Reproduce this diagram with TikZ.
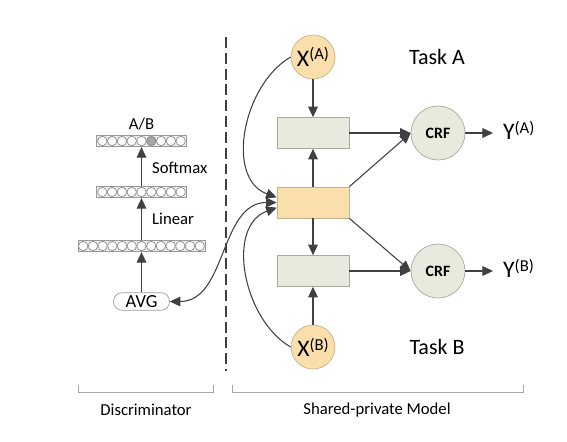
\documentclass[tikz,border=0pt]{standalone}
\usepackage{fontspec}
\setmainfont{Carlito}
\usetikzlibrary{arrows.meta,positioning}

\definecolor{naranja}{HTML}{FADFAC}
\definecolor{bordenaranja}{HTML}{C9B28C}
\definecolor{verdoso}{HTML}{E7EADC}
\definecolor{bordegris}{HTML}{A8AAA0}
\definecolor{linea}{HTML}{404040}

\newcommand{\indice}[1]{\raisebox{0.55ex}{\fontsize{9.5}{11}\selectfont(#1)}}

\begin{document}
\begin{tikzpicture}[x=0.02cm, y=-0.02cm, >={Triangle[length=6pt,width=5.5pt]}]
    \useasboundingbox (0,0) rectangle (567,441);

    % Estilos de nodos y flechas
    \tikzset{
      entrada/.style={
        circle, fill=naranja, draw=bordenaranja,
        minimum size=0.88cm, inner sep=0pt, font=\fontsize{13.5}{15}\selectfont
      },
      caja/.style={
        rectangle, fill=verdoso, draw=bordegris,
        minimum width=1.44cm, minimum height=0.62cm, inner sep=0pt
      },
      crf/.style={
        circle, fill=verdoso, draw=bordegris,
        minimum size=1.08cm, inner sep=0pt, font=\bfseries\fontsize{9}{11}\selectfont
      },
      capa/.style={
        rectangle, fill=gray!12, draw=gray!80,
        minimum height=0.23cm, inner sep=0pt
      },
      celda/.style={draw=gray!90, fill=white, line width=0.4pt},
      flecha/.style={draw=linea, line width=0.6pt, ->},
      etiqueta/.style={font=\fontsize{9.5}{11}\selectfont},
      titulo/.style={font=\fontsize{12.5}{14}\selectfont}
    }

    % Modelo compartido-privado
    \node[entrada] (xa) at (313,57) {X\indice{A}};
    \node[caja] (pa) at (313,133) {};
    \node[caja, fill=naranja, draw=bordenaranja] (comp) at (313,202.5) {};
    \node[caja] (pb) at (313,271) {};
    \node[entrada] (xb) at (313,347) {X\indice{B}};
    \node[crf] (crfa) at (438,133) {CRF};
    \node[crf] (crfb) at (438,271) {CRF};
    \node[entrada, draw=none, fill=none, anchor=west, minimum size=0pt, inner sep=3pt] (ya) at (493,130) {Y\indice{A}};
    \node[entrada, draw=none, fill=none, anchor=west, minimum size=0pt, inner sep=3pt] (yb) at (493,268) {Y\indice{B}};
    \node[titulo] (ta) at (437,57) {Task A};
    \node[titulo] (tb) at (437,347) {Task B};

    \draw[flecha] (xa) -- (pa);
    \draw[flecha] (comp) -- (pa);
    \draw[flecha] (comp) -- (pb);
    \draw[flecha] (xb) -- (pb);
    \draw[flecha] (pa) -- (crfa);
    \draw[flecha] (pb) -- (crfb);
    \draw[flecha] (comp.north east) -- (crfa.west);
    \draw[flecha] (comp.south east) -- (crfb.west);
    \draw[flecha] (crfa) -- (crfa -| ya.west);
    \draw[flecha] (crfb) -- (crfb -| yb.west);
    \draw[flecha] (xa.west) to[out=210, in=160] (comp.172);
    \draw[flecha] (xb.west) to[out=150, in=200] (comp.188);

    % Discriminador
    \node[capa, minimum width=1.80cm] (capa3) at (141.5,141) {};
    \node[capa, minimum width=1.80cm] (capa2) at (141.5,192) {};
    \node[capa, minimum width=2.54cm] (capa1) at (141.5,246) {};
    \foreach \i in {0,...,8} {
      \draw[celda] ({102.3+9.8*\i},141) circle (4.7);
      \draw[celda] ({102.3+9.8*\i},192) circle (4.7);
    }
    \draw[celda, fill=gray!70] ({102.3+9.8*5},141) circle (4.7);
    \foreach \i in {0,...,12}
      \draw[celda] ({83.2+9.71*\i},246) circle (4.7);
    \node[etiqueta] (ab) at (141.5,124) {A/B};
    \node[draw=gray!80, rounded corners=0.17cm, minimum width=1.12cm,
      minimum height=0.35cm, inner sep=0pt, font=\fontsize{10.5}{12}\selectfont] (avg) at (141.5,301.5) {AVG};
    \node[etiqueta, anchor=west] (softmax) at (146,168) {Softmax};
    \node[etiqueta, anchor=west] (linear) at (146,219) {Linear};

    \draw[flecha] (avg) -- (capa1);
    \draw[flecha] (capa1) -- (capa2);
    \draw[flecha] (capa2) -- (capa3);
    \draw[flecha, <->] (avg.east) to[out=0, in=180] (comp.west);

    % Separador
    \draw[linea, line width=0.8pt, dash pattern=on 6.2pt off 2.8pt] (226,37) -- (226,371);

    % Llaves inferiores
    \draw[gray!70] (78,385) -- (78,392) -- (213,392) -- (213,385);
    \draw[gray!70] (232,385) -- (232,392) -- (523,392) -- (523,385);
    \node[etiqueta] (disc) at (146,410) {Discriminator};
    \node[etiqueta] (modelo) at (377,410) {Shared-private Model};
\end{tikzpicture}
\end{document}
